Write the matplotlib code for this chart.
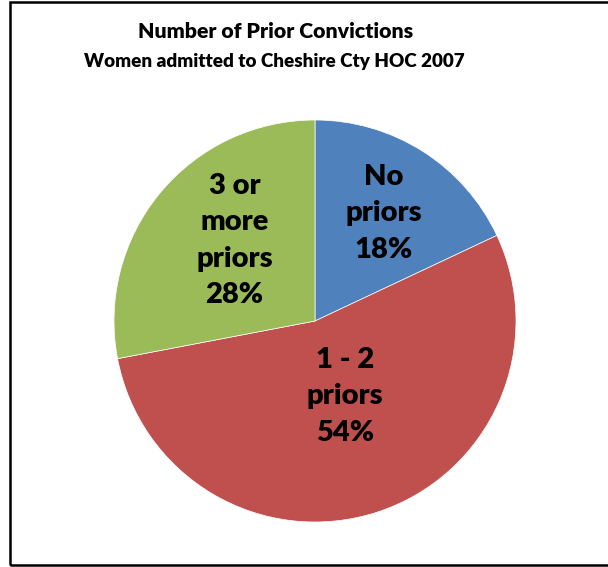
import matplotlib as mpl
mpl.use('Agg')
import matplotlib.pyplot as plt
from matplotlib.patches import Rectangle

# slices, clockwise from 12 o'clock
labels = ['No\npriors', '1 - 2\npriors', '3 or\nmore\npriors']
shares = [18, 54, 28]
colors = ['#4F81BD', '#C0504D', '#9BBB59']

title1 = 'Number of Prior Convictions'
title2 = 'Women admitted to Cheshire Cty HOC 2007'

W, H = 608, 567
fig = plt.figure(figsize=(W / 100, H / 100), dpi=100)

# pie centre ~ (315, 321) px, radius ~ 201 px
cx, cy, r = 315, 321, 201
ax = fig.add_axes([(cx - r) / W, (H - cy - r) / H, 2 * r / W, 2 * r / H])

def fmt(pct):
    return '{:.0f}%'.format(pct)

wedges, texts, autotexts = ax.pie(shares, colors=colors, startangle=90, counterclock=False,
                                  autopct=fmt, pctdistance=0.6, labels=None,
                                  wedgeprops=dict(linewidth=0.5, edgecolor='white'))

# put label text + percent together at the positions Excel used
label_pos = [(0.34, 0.535), (0.15, -0.375), (-0.40, 0.40)]
for at, lab, pos in zip(autotexts, labels, label_pos):
    at.set_text(lab + '\n' + at.get_text())
    at.set_position(pos)
    at.set_fontsize(21)
    at.set_fontweight('heavy')
    at.set_family('Lato')
    at.set_linespacing(1.5)
    at.set_ha('center')
    at.set_va('center')

ax.set_xlim(-1, 1)
ax.set_ylim(-1, 1)

fig.text(276 / W, 1 - 31 / H, title1, ha='center', va='center', fontsize=15.3,
         fontweight='heavy', family='Lato')
fig.text(274 / W, 1 - 62 / H, title2, ha='center', va='center', fontsize=13.6,
         fontweight='heavy', family='Lato')

# chart border (right edge runs off the image)
fig.patches.append(Rectangle((10 / W, 2 / H), 1.0, (563) / H, transform=fig.transFigure,
                             fill=False, edgecolor='black', linewidth=1.8))

fig.savefig('out.png', dpi=100)
